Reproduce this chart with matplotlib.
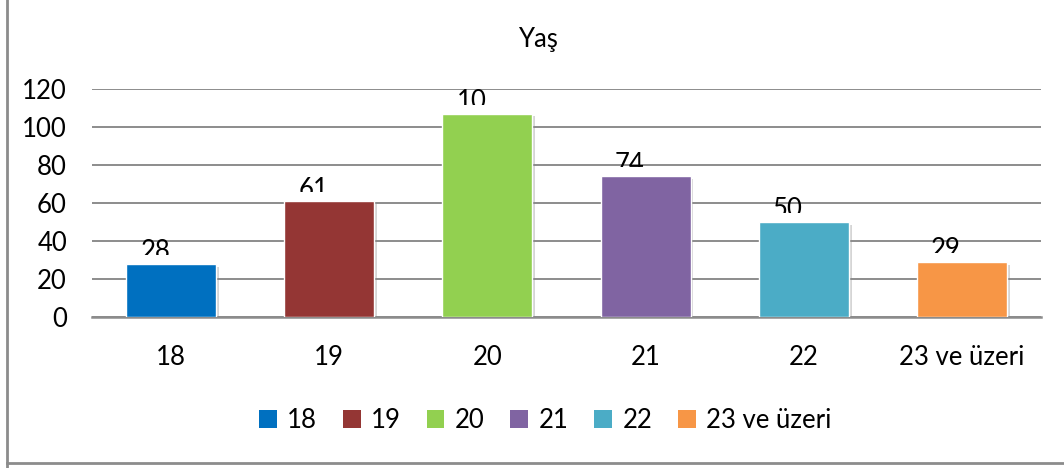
import matplotlib
matplotlib.use("Agg")
import matplotlib.pyplot as plt
import matplotlib.patheffects as pe
from matplotlib.transforms import Bbox, TransformedBbox
from matplotlib.lines import Line2D
from matplotlib.patches import Patch

plt.rcParams["font.family"] = ["Lato", "DejaVu Sans"]

categories = ["18", "19", "20", "21", "22", "23 ve üzeri"]
counts = [28, 61, 107, 74, 50, 29]
# labels as they appear in the source (Excel clipped the 3-digit one)
value_labels = ["28", "61", "10", "74", "50", "29"]
colors = ["#0070C0", "#943634", "#92D050", "#8064A2", "#4BACC6", "#F79646"]
title = "Yaş"
yticks = [0, 20, 40, 60, 80, 100, 120]

FS = 18.5

fig = plt.figure(figsize=(10.64, 4.68), dpi=100)
ax = fig.add_axes([92 / 1064, 1 - 317 / 468, (1041 - 92) / 1064, (317 - 89) / 468])

x = list(range(len(categories)))
bars = ax.bar(x, counts, width=0.57, color=colors, edgecolor="white",
              linewidth=1, zorder=3)
for b in bars:
    b.set_path_effects([pe.SimplePatchShadow(offset=(2, -2), shadow_rgbFace="#888888",
                                             alpha=0.35), pe.Normal()])

# value labels sit behind the bars, only the top part shows
for i, (v, lab) in enumerate(zip(counts, value_labels)):
    t = ax.text(i - 0.1, v + 2.4, lab, ha="center", va="baseline",
                fontsize=FS, color="black", zorder=2)
    t.set_clip_box(TransformedBbox(Bbox([[i - 0.5, v + 4.7], [i + 0.5, 140]]),
                                   ax.transData))
    t.set_clip_on(True)

ax.set_xlim(-0.5, len(categories) - 0.5)
ax.set_ylim(0, 120)
ax.set_yticks(yticks)
ax.set_xticks(x)
ax.set_xticklabels(categories)
ax.tick_params(axis="both", length=0, labelsize=FS, colors="black")
ax.tick_params(axis="x", pad=20)
ax.tick_params(axis="y", pad=18)
ax.yaxis.grid(True, color="#8c8c8c", linewidth=1.4, zorder=0)
ax.set_axisbelow(True)
for s in ["top", "right", "left"]:
    ax.spines[s].set_visible(False)
ax.spines["bottom"].set_color("#8c8c8c")
ax.spines["bottom"].set_linewidth(1.8)

fig.text(538 / 1064, 1 - 40 / 468, title, ha="center", va="center", fontsize=FS)

handles = [Patch(facecolor=c, edgecolor="none") for c in colors]
fig.legend(handles, categories, loc="center", bbox_to_anchor=(545 / 1064, 1 - 420 / 468),
           ncol=len(categories), frameon=False, fontsize=FS, handlelength=0.7,
           handleheight=0.7, handletextpad=0.4, columnspacing=1.0)

# outer chart frame (left and bottom edges visible)
fig.add_artist(Line2D([7 / 1064, 7 / 1064], [0, 1.0 + 0.01], color="#8c8c8c", linewidth=2))
fig.add_artist(Line2D([7 / 1064, 1.01], [5 / 468, 5 / 468], color="#8c8c8c", linewidth=2))

fig.savefig("out.png", dpi=100)
